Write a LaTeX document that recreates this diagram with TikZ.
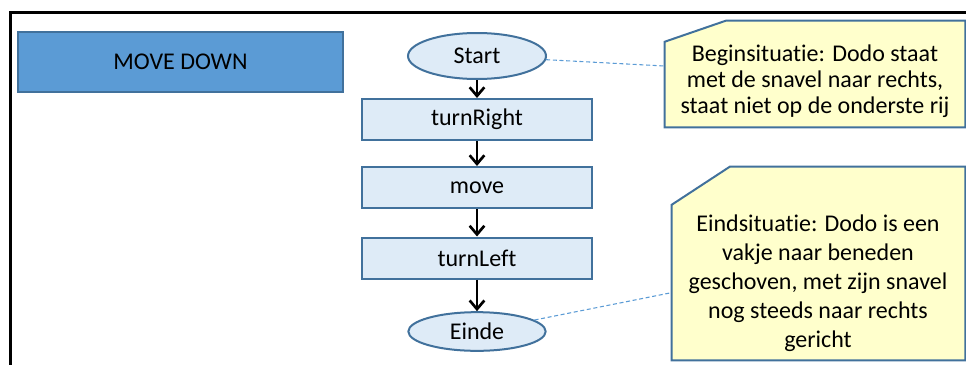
\documentclass[tikz,border=0pt]{standalone}
\usepackage{fontspec}
\setmainfont{Carlito}[Ligatures=NoCommon]
\usetikzlibrary{shapes.geometric,arrows.meta}

\definecolor{rand}{HTML}{41719C}
\definecolor{titelblauw}{HTML}{5B9BD5}
\definecolor{stapblauw}{HTML}{DEEBF7}
\definecolor{notegeel}{HTML}{FFFFCC}

\tikzset{
  stap/.style={draw=rand, line width=1.5pt, fill=stapblauw,
    minimum width=173pt, minimum height=30.75pt, inner sep=0pt},
  eind/.style={ellipse, draw=rand, line width=1.5pt, fill=stapblauw, inner sep=0pt},
  notevlak/.style={inner sep=0pt},
  notitie/.style={draw=rand, line width=1.5pt, fill=notegeel, line join=miter},
  notetekst/.style={align=center, inner sep=0pt},
  pijl/.style={line width=2pt, -{Straight Barb[length=6.5pt,width=11pt]}},
  lijn/.style={titelblauw, line width=0.8pt, dash pattern=on 3pt off 2pt}
}

\begin{document}
\begin{tikzpicture}[x=0.75pt,y=-0.75pt,font=\fontsize{18}{21.75}\selectfont]
  \path[use as bounding box, clip] (0,0) rectangle (966,364);

  % marco exterior
  \draw[line width=2.25pt] (10.5,380) -- (10.5,12) -- (980,12);

  \node[draw=rand, line width=1.5pt, fill=titelblauw, minimum width=243.75pt,
    minimum height=45pt] (titel) at (180.5,62) {MOVE DOWN};

  % diagrama de flujo
  \node[eind, minimum width=103.5pt, minimum height=34.5pt] (start) at (477,56) {Start};
  \foreach \naam/\y/\tekst in {turnright/119.5/turnRight, move/187.5/move, turnleft/258/turnLeft} {
    \node[stap] (\naam) at (477,\y) {\tekst};
  }
  \node[eind, minimum width=103pt, minimum height=29pt] (einde) at (477,331.5) {Einde};

  \foreach \a/\b in {start/turnright, turnright/move, move/turnleft, turnleft/einde} {
    \draw[pijl] (\a) -- (\b);
  }

  % notas con esquina cortada
  \node[notevlak, minimum width=225pt, minimum height=79.5pt] (beginnote) at (815,74) {};
  \filldraw[notitie] (beginnote.south west) -- ([yshift=-15.75pt]beginnote.north west)
    -- ([xshift=45.75pt]beginnote.north west) -- (beginnote.north east)
    -- (beginnote.south east) -- cycle;
  \node[notetekst, font=\fontsize{18}{19.5}\selectfont] (begintekst) at (815,81)
    {Beginsituatie: Dodo staat\\met de snavel naar rechts,\\staat niet op de onderste rij};

  \node[notevlak, minimum width=219.75pt, minimum height=144.75pt] (eindnote) at (818.5,263.5) {};
  \filldraw[notitie] (eindnote.south west) -- ([yshift=-28.5pt]eindnote.north west)
    -- ([xshift=43.5pt]eindnote.north west) -- (eindnote.north east)
    -- (eindnote.south east) -- cycle;
  \node[notetekst] (eindtekst) at (818,283.5)
    {Eindsituatie: Dodo is een\\vakje naar beneden\\geschoven, met zijn snavel\\nog steeds naar rechts\\gericht};

  \draw[lijn] (start) -- (beginnote);
  \draw[lijn] (einde) -- (eindnote);
\end{tikzpicture}
\end{document}
